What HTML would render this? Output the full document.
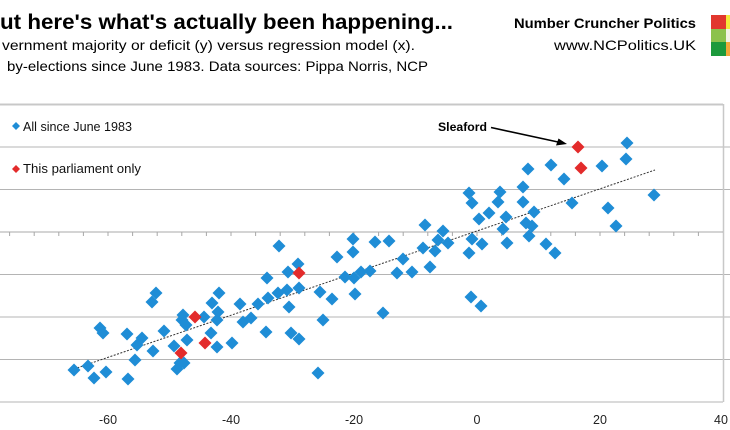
<!DOCTYPE html>
<html>
<head>
<meta charset="utf-8">
<style>
html,body{margin:0;padding:0;background:#fff;}
body{width:730px;height:430px;overflow:hidden;}
svg{display:block;}
text{font-family:"Liberation Sans",Arial,sans-serif;}
</style>
</head>
<body>
<svg width="730" height="430" viewBox="0 0 730 430" xmlns="http://www.w3.org/2000/svg">
<defs>
<marker id="mb" markerUnits="userSpaceOnUse" markerWidth="14" markerHeight="14" refX="7" refY="7" orient="0" overflow="visible">
<path d="M7 0.5L13.5 7L7 13.5L0.5 7Z" fill="#1f8dd6"/>
</marker>
<marker id="mr" markerUnits="userSpaceOnUse" markerWidth="14" markerHeight="14" refX="7" refY="7" orient="0" overflow="visible">
<path d="M7 0.5L13.5 7L7 13.5L0.5 7Z" fill="#e32b2b"/>
</marker>
</defs>
<rect width="730" height="430" fill="#fff"/>
<text x="0" y="29" font-size="21" font-weight="bold" fill="#000" textLength="453" lengthAdjust="spacingAndGlyphs">ut here's what's actually been happening...</text>
<text x="2" y="50" font-size="14" fill="#000" textLength="413" lengthAdjust="spacingAndGlyphs">vernment majority or deficit (y) versus regression model (x).</text>
<text x="7" y="71" font-size="14" fill="#000" textLength="421" lengthAdjust="spacingAndGlyphs">by-elections since June 1983. Data sources: Pippa Norris, NCP</text>
<text x="514" y="28" font-size="14" font-weight="bold" fill="#000" textLength="182" lengthAdjust="spacingAndGlyphs">Number Cruncher Politics</text>
<text x="554" y="50" font-size="14" fill="#000" textLength="142" lengthAdjust="spacingAndGlyphs">www.NCPolitics.UK</text>
<rect x="711" y="15" width="15" height="14" fill="#e2372e"/>
<rect x="726" y="15" width="4" height="14" fill="#f4e93c"/>
<rect x="711" y="29" width="15" height="13" fill="#8cc24d"/>
<rect x="726" y="29" width="4" height="13" fill="#f2f2e6"/>
<rect x="711" y="42" width="15" height="14" fill="#1c9a3c"/>
<rect x="726" y="42" width="4" height="14" fill="#f3a83a"/>
<g stroke="#b4b4b4" stroke-width="1">
<line x1="0" y1="104.5" x2="723" y2="104.5" stroke="#c8c8c8" stroke-width="2"/>
<line x1="0" y1="147" x2="730" y2="147"/>
<line x1="0" y1="189.5" x2="730" y2="189.5"/>
<line x1="0" y1="274.5" x2="730" y2="274.5"/>
<line x1="0" y1="317" x2="730" y2="317"/>
<line x1="0" y1="359.5" x2="730" y2="359.5"/>
<line x1="0" y1="402" x2="723" y2="402"/>
<line x1="723.5" y1="104" x2="723.5" y2="402" stroke="#c8c8c8" stroke-width="1.5"/>
</g>
<g stroke="#a8a8a8" stroke-width="1">
<line x1="0" y1="232" x2="723" y2="232"/>
<path d="M9.6 232v4M34.2 232v4M58.8 232v4M83.4 232v4M108 232v4M132.6 232v4M157.2 232v4M181.8 232v4M206.4 232v4M231 232v4M255.6 232v4M280.2 232v4M304.8 232v4M329.4 232v4M354 232v4M378.6 232v4M403.2 232v4M427.8 232v4M452.4 232v4M477 232v4M501.6 232v4M526.2 232v4M550.8 232v4M575.4 232v4M600 232v4M624.6 232v4M649.2 232v4M673.8 232v4M698.4 232v4"/>
</g>
<g font-size="12.5" fill="#222" text-anchor="middle">
<text x="108" y="424">-60</text>
<text x="231" y="424">-40</text>
<text x="354" y="424">-20</text>
<text x="477" y="424">0</text>
<text x="600" y="424">20</text>
<text x="721" y="424">40</text>
</g>
<path d="M16 122 L20 126 L16 130 L12 126Z" fill="#1f8dd6"/>
<text x="23" y="131" font-size="12.5" fill="#111" textLength="109" lengthAdjust="spacingAndGlyphs">All since June 1983</text>
<path d="M16 165 L20 169 L16 173 L12 169Z" fill="#e32b2b"/>
<text x="23" y="173" font-size="12.5" fill="#111" textLength="118" lengthAdjust="spacingAndGlyphs">This parliament only</text>
<text x="438" y="131" font-size="12" font-weight="bold" fill="#000" textLength="49" lengthAdjust="spacingAndGlyphs">Sleaford</text>
<line x1="491" y1="127.5" x2="558" y2="142" stroke="#000" stroke-width="1.6"/>
<path d="M567 144 L556 145.5 L558.5 138.5Z" fill="#000"/>
<line x1="74" y1="369" x2="655" y2="170" stroke="#333" stroke-width="1" stroke-dasharray="2,1.5"/>
<polyline fill="none" stroke="none" marker-start="url(#mb)" marker-mid="url(#mb)" marker-end="url(#mb)" points="74,370 88,366 94,378 106,372 100,328 103,333 127,334 128,379 135,360 137,345 142,338 153,351 152,302 156,293 164,331 174,346 182,320 183,315 186,325 187,340 180,363 184,363 177,369 204,317 212,303 219,293 218,312 211,333 217,347 217,320 232,343 240,304 243,322 251,318 258,304 425,225 353,239 375,242 389,241 279,246 353,252 337,257 423,248 403,259 430,267 298,264 288,272 267,278 345,277 354,278 361,272 370,271 397,273 412,272 299,288 287,290 278,293 268,298 320,292 332,299 355,294 289,307 383,313 323,320 266,332 291,333 299,339 318,373 469,193 472,203 500,192 498,202 523,187 523,202 528,169 564,179 479,219 489,213 506,217 503,229 534,212 526,223 532,226 529,236 443,231 438,240 448,243 435,251 472,239 482,244 469,253 507,243 546,244 555,253 572,203 471,297 481,306 627,143 626,159 602,166 551,165 654,195 608,208 616,226"/>
<polyline fill="none" stroke="none" marker-start="url(#mr)" marker-mid="url(#mr)" marker-end="url(#mr)" points="181,353 195,317 205,343 299,273 578,147 581,168"/>
</svg>
</body>
</html>
